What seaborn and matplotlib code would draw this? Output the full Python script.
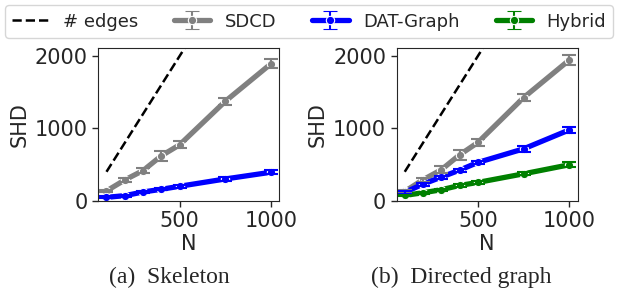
import numpy as np
import pandas as pd
import matplotlib.pyplot as plt
import seaborn as sns

# values
N = [100, 200, 300, 400, 500, 750, 1000]
edges = [400, 800, 1200, 1600, 2000, 3000, 4000]

skel_sdcd = [135, 287, 417, 621, 773, 1375, 1894]
skel_sdcd_err = [15, 25, 35, 69, 51, 50, 62]
skel_dat = [47, 70, 121, 158, 200, 301, 394]
skel_dat_err = [12, 12, 15, 15, 18, 22, 30]

dir_sdcd = [129, 290, 428, 634, 805, 1425, 1945]
dir_sdcd_err = [15, 30, 46, 69, 53, 51, 74]
dir_dat = [115, 230, 326, 423, 529, 717, 979]
dir_dat_err = [18, 20, 20, 20, 25, 40, 46]
dir_hyb = [74, 110, 152, 211, 253, 372, 497]
dir_hyb_err = [12, 12, 12, 15, 15, 20, 37]

methods = ["SDCD", "DAT-Graph", "Hybrid"]
colors = {"SDCD": "gray", "DAT-Graph": "blue", "Hybrid": "green"}
captions = ["(a)  Skeleton", "(b)  Directed graph"]

panels = [
    {"SDCD": (skel_sdcd, skel_sdcd_err), "DAT-Graph": (skel_dat, skel_dat_err)},
    {"SDCD": (dir_sdcd, dir_sdcd_err), "DAT-Graph": (dir_dat, dir_dat_err),
     "Hybrid": (dir_hyb, dir_hyb_err)},
]

sns.set_style("ticks")
plt.rcParams["font.family"] = "sans-serif"
plt.rcParams["font.sans-serif"] = ["DejaVu Sans"]

fig = plt.figure(figsize=(6.18, 2.88), dpi=100)
axes = [fig.add_axes([0.159, 0.303, 0.293, 0.529]),
        fig.add_axes([0.6416, 0.303, 0.293, 0.529])]

for ax, panel, cap, cx in zip(axes, panels, captions, [0.274, 0.747]):
    sns.lineplot(x=N, y=edges, color="black", linestyle="--", linewidth=1.8, ax=ax)
    rows = []
    for m, (vals, err) in panel.items():
        for n, v in zip(N, vals):
            rows.append({"N": n, "SHD": v, "method": m})
    df = pd.DataFrame(rows)
    sns.lineplot(data=df, x="N", y="SHD", hue="method", hue_order=list(panel.keys()),
                 palette=colors, marker="o", markersize=6, markeredgecolor="white",
                 markeredgewidth=0.8, linewidth=3.8, legend=False, ax=ax)
    for m, (vals, err) in panel.items():
        ax.errorbar(N, vals, yerr=err, fmt="none", ecolor=colors[m],
                    capsize=5, elinewidth=1.5, capthick=1.5)
    ax.set_xlim(55, 1045)
    ax.set_ylim(0, 2105)
    ax.set_xticks([500, 1000])
    ax.set_yticks([0, 1000, 2000])
    ax.tick_params(labelsize=15, length=4, width=1)
    ax.set_xlabel("N", fontsize=15, labelpad=2)
    ax.set_ylabel("SHD", fontsize=15)
    fig.text(cx, 0.017, cap, ha="center", va="baseline", fontsize=17,
             family="Liberation Serif")

# legend proxies with error bar glyphs
ax = axes[1]
handles = [plt.Line2D([], [], color="black", linestyle="--", linewidth=1.8)]
for m in methods:
    h = ax.errorbar([np.nan], [np.nan], yerr=[np.nan], fmt="-o", color=colors[m],
                    linewidth=3.8, markersize=6, markeredgecolor="white",
                    markeredgewidth=0.8, capsize=5, elinewidth=1.5, capthick=1.5)
    handles.append(h)
fig.legend(handles, ["# edges"] + methods, loc="upper center", ncol=4,
           fontsize=13, bbox_to_anchor=(0.5, 1.0), borderaxespad=0.3,
           frameon=True)

fig.savefig("out.png", dpi=100)
